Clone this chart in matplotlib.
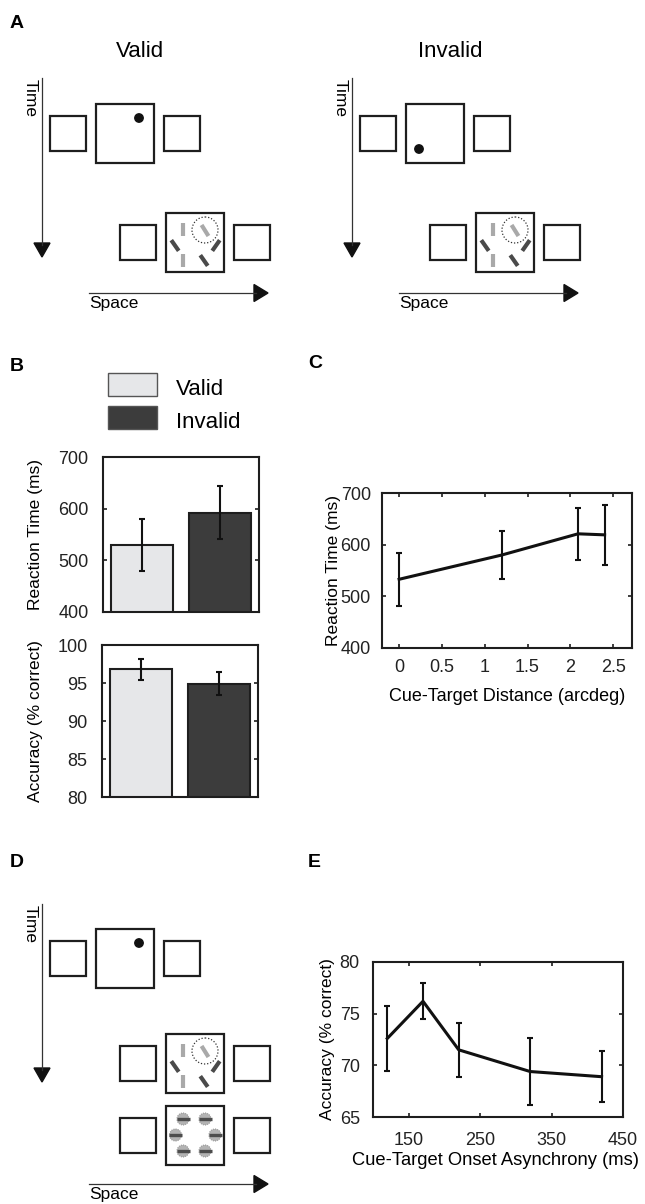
import matplotlib
matplotlib.use('Agg')
import matplotlib.pyplot as plt
from matplotlib.patches import Rectangle, Circle, Polygon
import numpy as np

plt.rcParams['font.family'] = ['Liberation Sans', 'DejaVu Sans']

W, H = 645, 1204

# B: reaction time / accuracy by cue validity
conditions = ['Valid', 'Invalid']
cond_colors = ['#e6e7e9', '#3c3c3c']
rt_mean = [530, 592]
rt_err = [50, 51]
acc_mean = [96.8, 94.9]
acc_err = [1.35, 1.5]

# C: reaction time vs cue-target distance
distance = [0, 1.2, 2.09, 2.4]
dist_rt = [533, 580, 621, 619]
dist_err = [51, 47, 50, 58]
dist_ticks = [0, 0.5, 1, 1.5, 2, 2.5]
dist_ticklabels = ['0', '0.5', '1', '1.5', '2', '2.5']

# E: accuracy vs cue-target onset asynchrony
soa = [120, 170, 220, 320, 420]
soa_acc = [72.6, 76.2, 71.5, 69.4, 68.9]
soa_err = [3.1, 1.75, 2.6, 3.2, 2.45]

INK = '#1e1e1e'
LIGHT = '#a9a9a9'
DARK = '#4a4a4a'

fig = plt.figure(figsize=(W / 100, H / 100), dpi=100)

# full-figure layer in pixel coordinates for the schematics
sk = fig.add_axes([0, 0, 1, 1])
sk.set_xlim(0, W)
sk.set_ylim(H, 0)
sk.axis('off')


def px_axes(x0, y0, x1, y1):
    return fig.add_axes([x0 / W, 1 - y1 / H, (x1 - x0) / W, (y1 - y0) / H])


def display(cx, cy):
    sk.add_patch(Rectangle((cx - 29, cy - 29.5), 58, 59, fill=False, ec=INK, lw=1.6))
    for off in (-57, 57):
        sk.add_patch(Rectangle((cx + off - 18, cy - 17.5), 36, 35, fill=False, ec=INK, lw=1.6))


def cue(cx, cy, dx, dy):
    sk.add_patch(Circle((cx + dx, cy + dy), 4.2, color='#111'))


# target array: offset x, offset y, colour, tilt from vertical (deg)
targets = [(-12, -13, LIGHT, 0), (10, -12, LIGHT, 32), (-20, 3, DARK, 35),
           (21, 3, DARK, -35), (-12, 18, LIGHT, 0), (9, 18, DARK, 35)]
masks = [(-12, -16), (10, -16), (-19.5, 0), (20, 0), (-12, 16), (10, 16)]


def draw_targets(cx, cy):
    L = 13
    for dx, dy, c, a in targets:
        s = L / 2 * np.sin(np.radians(a))
        k = L / 2 * np.cos(np.radians(a))
        x, y = cx + dx, cy + dy
        sk.plot([x - s, x + s], [y - k, y + k], color=c, lw=3, solid_capstyle='butt')
    sk.add_patch(Circle((cx + 10, cy - 12.5), 13, fill=False, ec='#333', lw=0.9, ls=(0, (1, 1.5))))


def draw_masks(cx, cy):
    for dx, dy in masks:
        x, y = cx + dx, cy + dy
        sk.add_patch(Circle((x, y), 6, fc='#b3b3b3', ec='#999', lw=0.8, ls=(0, (1, 1))))
        sk.plot([x - 6.5, x + 6.5], [y, y], color='#4d4d4d', lw=2.4, solid_capstyle='butt')


def time_arrow(x, y0, y1):
    sk.plot([x, x], [y0, y1 - 12], color='#333', lw=0.9)
    sk.add_patch(Polygon([[x - 8, y1 - 14], [x + 8, y1 - 14], [x, y1]], closed=True, color='#111'))
    sk.text(x - 12, y0 + 1, 'Time', rotation=270, ha='center', va='top', fontsize=12.5)


def space_arrow(x0, x1, y):
    sk.plot([x0, x1 - 12], [y, y], color='#333', lw=0.9)
    sk.add_patch(Polygon([[x1 - 14, y - 8.5], [x1 - 14, y + 8.5], [x1, y]], closed=True, color='#111'))
    sk.text(x0, y + 15, 'Space', ha='left', va='baseline', fontsize=12.5)


# ---- panel A ----
for shift, title, cdx, cdy in [(0, 'Valid', 14, -15.5), (310, 'Invalid', -16, 15.5)]:
    sk.text(140 + shift, 57, title, ha='center', va='baseline', fontsize=16)
    display(125 + shift, 133.5)
    cue(125 + shift, 133.5, cdx, cdy)
    display(195 + shift, 242.5)
    draw_targets(195 + shift, 242.5)
    time_arrow(42 + shift, 78, 257)
    space_arrow(89 + shift, 268 + shift, 293)

# ---- panel D ----
display(125, 958)
cue(125, 958, 14, -15)
display(195, 1063.5)
draw_targets(195, 1063.5)
display(195, 1135)
draw_masks(195, 1135)
time_arrow(42, 904, 1082)
space_arrow(89, 268, 1184)

# panel letters
for lab, x, y in [('A', 10, 28), ('B', 10, 371), ('C', 308, 368), ('D', 10, 867), ('E', 308, 867)]:
    sk.text(x, y, lab, fontsize=14, fontweight='bold', ha='left', va='baseline')

# legend for B
for i, (name, col) in enumerate(zip(conditions, cond_colors)):
    y0 = 373 + i * 33
    sk.add_patch(Rectangle((108, y0), 49, 23, fc=col, ec='#555', lw=1))
    sk.text(176, y0 + 22, name, ha='left', va='baseline', fontsize=16)


def style(ax, pad_y, pad_x=8):
    for sp in ax.spines.values():
        sp.set_linewidth(1.5)
        sp.set_color(INK)
    ax.tick_params(direction='in', length=3, width=1.2, labelsize=13,
                   color=INK, labelcolor='#222')
    ax.tick_params(axis='y', pad=pad_y)
    ax.tick_params(axis='x', pad=pad_x)


xpos = np.arange(1, len(conditions) + 1)

# ---- panel B: reaction time ----
ax_rt = px_axes(103, 457, 259, 612)
ax_rt.bar(xpos, rt_mean, width=0.8, color=cond_colors, edgecolor=INK, lw=1.5, zorder=2)
ax_rt.errorbar(xpos, rt_mean, yerr=rt_err, fmt='none', ecolor='#111', elinewidth=1.5,
               capsize=2.2, capthick=1.5, zorder=3)
ax_rt.set_xlim(0.5, 2.5)
ax_rt.set_ylim(400, 700)
ax_rt.set_yticks([400, 500, 600, 700])
ax_rt.set_xticks([])
style(ax_rt, 10.5)
ax_rt.tick_params(axis='y', right=True)
ax_rt.set_ylabel('Reaction Time (ms)', fontsize=12.5)
ax_rt.yaxis.set_label_coords(-0.385, 0.5)

# ---- panel B: accuracy ----
ax_acc = px_axes(102, 645, 258, 797)
ax_acc.bar(xpos, acc_mean, width=0.8, color=cond_colors, edgecolor=INK, lw=1.5, zorder=2)
ax_acc.errorbar(xpos, acc_mean, yerr=acc_err, fmt='none', ecolor='#111', elinewidth=1.5,
                capsize=2.2, capthick=1.5, zorder=3)
ax_acc.set_xlim(0.5, 2.5)
ax_acc.set_ylim(80, 100)
ax_acc.set_yticks([80, 85, 90, 95, 100])
ax_acc.set_xticks([])
style(ax_acc, 10.5)
ax_acc.tick_params(axis='y', right=True)
ax_acc.set_ylabel('Accuracy (% correct)', fontsize=12.5)
ax_acc.yaxis.set_label_coords(-0.378, 0.5)

# ---- panel C ----
ax_c = px_axes(382, 493, 632, 648)
ax_c.errorbar(distance, dist_rt, yerr=dist_err, color='#111', lw=2.2, elinewidth=1.5,
              capsize=2.5, capthick=1.5)
ax_c.set_xlim(-0.2, 2.72)
ax_c.set_ylim(400, 700)
ax_c.set_xticks(dist_ticks)
ax_c.set_xticklabels(dist_ticklabels)
ax_c.set_yticks([400, 500, 600, 700])
style(ax_c, 8, 8)
ax_c.tick_params(top=True, right=True)
ax_c.set_ylabel('Reaction Time (ms)', fontsize=12.5)
ax_c.yaxis.set_label_coords(-0.164, 0.5)
ax_c.set_xlabel('Cue-Target Distance (arcdeg)', fontsize=13, va='top')
ax_c.xaxis.set_label_coords(0.5, -0.258)

# ---- panel E ----
ax_e = px_axes(373, 962, 623, 1117)
ax_e.errorbar(soa, soa_acc, yerr=soa_err, color='#111', lw=2.2, elinewidth=1.5,
              capsize=2.5, capthick=1.5)
ax_e.set_xlim(100, 450)
ax_e.set_ylim(65, 80)
ax_e.set_xticks([150, 250, 350, 450])
ax_e.set_yticks([65, 70, 75, 80])
style(ax_e, 9.5, 11)
ax_e.tick_params(top=True, right=True)
ax_e.set_ylabel('Accuracy (% correct)', fontsize=12.5)
ax_e.yaxis.set_label_coords(-0.152, 0.5)
ax_e.set_xlabel('Cue-Target Onset Asynchrony (ms)', fontsize=13.2, va='top')
ax_e.xaxis.set_label_coords(0.49, -0.226)

fig.savefig('out.png', dpi=100)
